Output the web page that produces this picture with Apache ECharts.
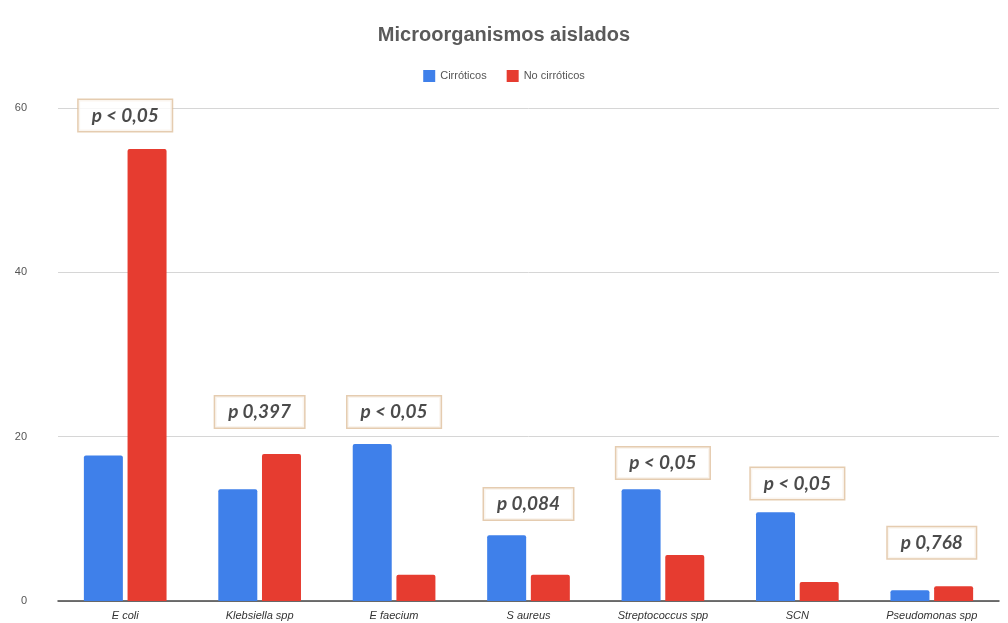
<!DOCTYPE html>
<html>
<head>
<meta charset="utf-8">
<script src="https://cdn.jsdelivr.net/npm/echarts@6/dist/echarts.min.js"></script>
<style>
html,body{margin:0;padding:0;background:#fff;}
#chart{width:1008px;height:623px;}
</style>
</head>
<body>
<div id="chart"></div>
<script>
const categories = ['E coli', 'Klebsiella spp', 'E faecium', 'S aureus', 'Streptococcus spp', 'SCN', 'Pseudomonas spp'];
const cirroticos = [17.7, 13.6, 19.1, 8.0, 13.6, 10.8, 1.3];
const noCirroticos = [55, 17.9, 3.2, 3.2, 5.6, 2.3, 1.8];
const pLabels = ['p < 0,05', 'p 0,397', 'p < 0,05', 'p 0,084', 'p < 0,05', 'p < 0,05', 'p 0,768'];
const pLabelY = [59.1, 23.0, 23.0, 11.8, 16.8, 14.3, 7.1];
const yTicks = [0, 20, 40, 60];

const chart = echarts.init(document.getElementById('chart'));
chart.setOption({
  animation: false,
  backgroundColor: '#fff',
  title: {
    text: 'Microorganismos aislados',
    left: 'center',
    top: 20,
    textStyle: {fontFamily: 'Liberation Sans, Arial, sans-serif', fontSize: 20, fontWeight: 'bold', color: '#5a5a5a'}
  },
  legend: {
    data: ['Cirróticos', 'No cirróticos'],
    top: 65,
    left: 'center',
    itemWidth: 12,
    itemHeight: 12,
    itemGap: 20,
    icon: 'rect',
    textStyle: {fontFamily: 'Liberation Sans, Arial, sans-serif', fontSize: 11, color: '#555'}
  },
  grid: {left: 58, right: 9, top: 108, bottom: 22, containLabel: false},
  xAxis: {
    type: 'category',
    data: categories,
    axisTick: {show: false},
    axisLine: {lineStyle: {color: '#444', width: 1.5}},
    axisLabel: {fontFamily: 'Liberation Sans, Arial, sans-serif', fontStyle: 'italic', fontSize: 11, color: '#333', margin: 9, interval: 0}
  },
  yAxis: {
    type: 'value',
    min: 0,
    max: yTicks[yTicks.length - 1],
    interval: 20,
    axisLine: {show: false},
    axisTick: {show: false},
    splitLine: {lineStyle: {color: '#d6d6d6', width: 1}},
    axisLabel: {fontFamily: 'Liberation Sans, Arial, sans-serif', fontSize: 11, color: '#555', margin: 31}
  },
  series: [
    {
      name: 'Cirróticos',
      type: 'bar',
      data: cirroticos,
      barWidth: 39,
      barGap: '12%',
      itemStyle: {color: '#3f80ea', borderRadius: [2, 2, 0, 0]}
    },
    {
      name: 'No cirróticos',
      type: 'bar',
      data: noCirroticos,
      barWidth: 39,
      barGap: '12%',
      itemStyle: {color: '#e63c30', borderRadius: [2, 2, 0, 0]}
    },
    {
      name: 'p',
      type: 'scatter',
      data: pLabelY.map((v, i) => ({value: v, label: {formatter: pLabels[i]}})),
      symbolSize: 0,
      z: 10,
      label: {
        show: true,
        position: 'inside',
        fontFamily: 'Lato, Liberation Sans, sans-serif',
        fontStyle: 'italic',
        fontWeight: 'bold',
        fontSize: 19,
        color: '#1e1e1e',
        backgroundColor: '#fff',
        borderColor: '#dfbf9c',
        borderWidth: 1.5,
        padding: [6, 13, 6, 13]
      },
      tooltip: {show: false}
    }
  ]
});
</script>
</body>
</html>
